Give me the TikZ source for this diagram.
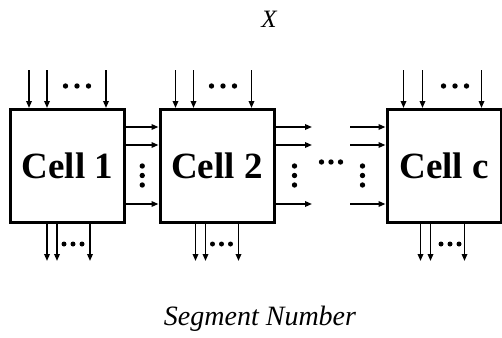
\documentclass[tikz,border=0pt]{standalone}
\usepackage{fontspec}
\setmainfont{Liberation Serif}
\usetikzlibrary{arrows.meta,calc}
\begin{document}
\begin{tikzpicture}[x=1pt,y=-1pt,
  cellbox/.style={draw,line width=3pt,minimum width=114pt,minimum height=113pt,inner sep=0pt,
    font=\fontsize{37}{40}\selectfont\bfseries},
  arr/.style={line width=1.6pt,-{Triangle[length=7pt,width=5.5pt]}}]
\useasboundingbox (0,0) rectangle (502,337);
\node[cellbox] (c1) at (67.5,166) {Cell 1};
\node[cellbox] (c2) at (217,166) {Cell 2};
\node[cellbox] (c3) at (444,166) {Cell c};
\node[font=\fontsize{25}{28}\selectfont\itshape] (xl) at (269,19) {X};
\node[font=\fontsize{28}{32}\selectfont\itshape] (sn) at (260,319) {Segment Number};
% top inputs
\foreach \c/\a/\b/\d/\p in {c1/20/38/97/56.5, c2/17/35/93/53, c3/18/37/96/58}{
  \draw[arr] ([xshift=\a pt,yshift=38pt]\c.north west) -- ([xshift=\a pt]\c.north west);
  \draw[arr] ([xshift=\b pt,yshift=38pt]\c.north west) -- ([xshift=\b pt]\c.north west);
  \draw[arr] ([xshift=\d pt,yshift=38pt]\c.north west) -- ([xshift=\d pt]\c.north west);
  \foreach \k in {0,1,2}
    \fill ([xshift=\p pt+\k*11.5pt,yshift=22pt]\c.north west) circle (2.7pt);
}
% bottom outputs
\foreach \c/\a/\b/\d/\p in {c1/38/48/81/55, c2/37/47/80/54, c3/35/45/79/55.5}{
  \draw[arr] ([xshift=\a pt]\c.south west) -- ([xshift=\a pt,yshift=-37pt]\c.south west);
  \draw[arr] ([xshift=\b pt]\c.south west) -- ([xshift=\b pt,yshift=-37pt]\c.south west);
  \draw[arr] ([xshift=\d pt]\c.south west) -- ([xshift=\d pt,yshift=-37pt]\c.south west);
  \foreach \k in {0,1,2}
    \fill ([xshift=\p pt+\k*9pt,yshift=-20pt]\c.south west) circle (2.5pt);
}
% cell1 -> cell2
\foreach \o in {39,21,-38}
  \draw[arr] ([yshift=\o pt]c1.east) -- ([yshift=\o pt]c2.west);
\foreach \k in {0,1,2}
  \fill ($(c1.east)!0.5!(c2.west)+(0,\k*9.5)$) circle (2.7pt);
% cell2 -> free
\coordinate (m2) at (312,166);
\coordinate (m3) at (350,166);
\foreach \o in {39,21,-38}{
  \draw[arr] ([yshift=\o pt]c2.east) -- ([yshift=\o pt]m2);
  \draw[arr] ([yshift=\o pt]m3) -- ([yshift=\o pt]c3.west);
}
\foreach \k in {0,1,2}{
  \fill ($(c2.east)+(19,\k*9.5)$) circle (2.7pt);
  \fill ($(c3.west)+(-23,\k*9.5)$) circle (2.7pt);
  \fill ($(m2)!0.5!(m3)+(\k*9.5-9.5,-4)$) circle (2.7pt);
}
\end{tikzpicture}
\end{document}
